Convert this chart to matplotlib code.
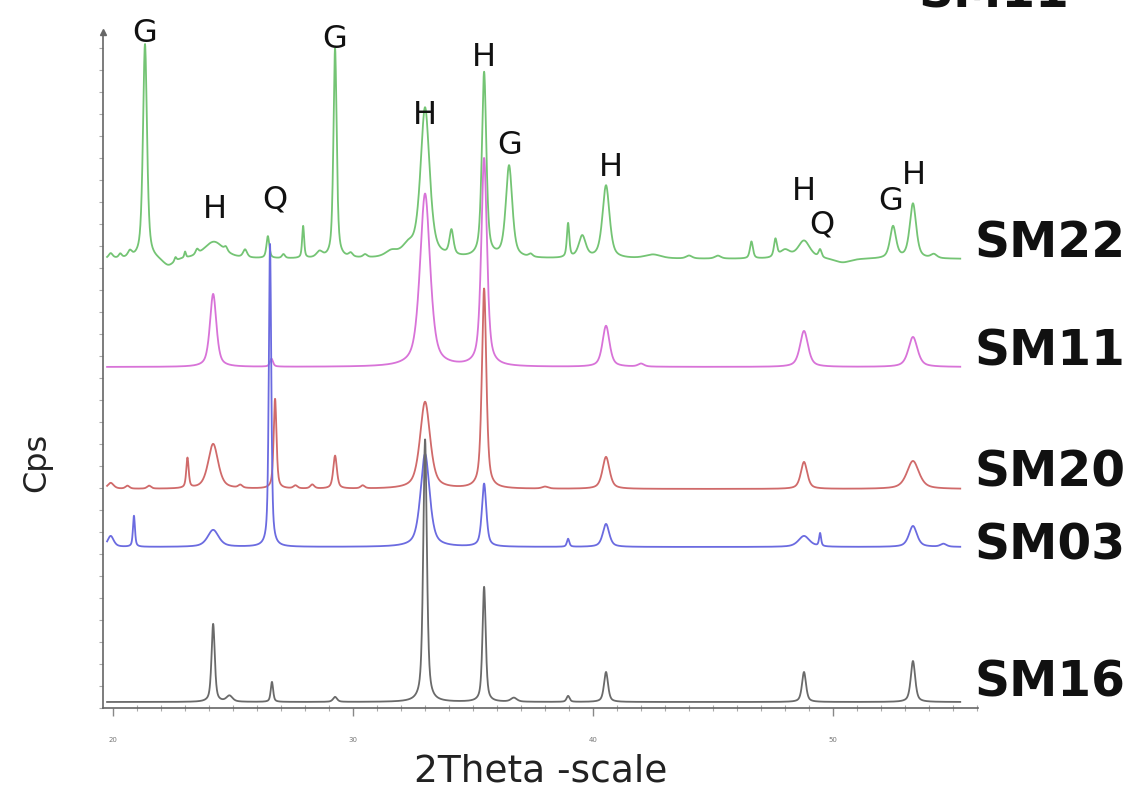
import numpy as np
import matplotlib
matplotlib.use("Agg")
import matplotlib.pyplot as plt
from matplotlib.ticker import MultipleLocator

# =================================
# Data
# peaks: (2theta, height, fwhm) ; heights in plot units above the baseline
# =================================
samples = ["SM22", "SM11", "SM20", "SM03", "SM16"]
colors = ["#74c474", "#d873d8", "#d06a6a", "#6b6be0", "#6a6a6a"]
baselines = [449, 341, 219, 161, 6]

peaks_sm22 = [(19.9, 5, 0.2), (20.3, 4, 0.15), (20.7, 6, 0.2),
              (21.33, 215, 0.20), (22.3, -8, 0.6), (22.6, 4, 0.1), (23.0, 6, 0.08),
              (23.5, 5, 0.15), (24.2, 17, 1.0), (24.7, 4, 0.15),
              (25.5, 8, 0.2), (26.45, 22, 0.14), (27.1, 4, 0.15), (27.92, 32, 0.10),
              (28.6, 6, 0.3), (29.25, 210, 0.16), (29.9, 4, 0.2), (30.5, 3, 0.2),
              (31.6, 6, 0.6), (32.3, 10, 0.6), (33.0, 150, 0.45),
              (34.1, 25, 0.2), (35.46, 185, 0.22), (36.5, 92, 0.32), (37.4, 3, 0.2),
              (38.96, 34, 0.12), (39.55, 22, 0.35), (40.54, 73, 0.35), (42.5, 4, 0.8),
              (44.0, 3, 0.3), (45.2, 3, 0.3), (46.6, 17, 0.15),
              (47.6, 18, 0.15), (48.0, 8, 0.5), (48.79, 18, 0.6), (49.46, 8, 0.15),
              (50.4, -4, 0.8), (52.5, 32, 0.3), (53.33, 55, 0.32), (54.2, 4, 0.3)]
peaks_sm11 = [(24.17, 73, 0.32), (26.6, 8, 0.15), (33.0, 173, 0.5), (35.46, 208, 0.28),
              (40.54, 41, 0.35), (42.0, 3, 0.3), (48.79, 36, 0.4), (53.33, 30, 0.45)]
peaks_sm20 = [(19.9, 6, 0.3), (20.6, 3, 0.2), (21.5, 3, 0.2), (23.1, 30, 0.12),
              (24.17, 45, 0.5), (25.3, 3, 0.2), (26.75, 90, 0.14), (27.6, 3, 0.2),
              (28.3, 4, 0.2), (29.25, 33, 0.18), (30.4, 3, 0.2), (33.0, 87, 0.5),
              (35.46, 200, 0.22), (38.0, 2, 0.3), (40.54, 32, 0.35),
              (48.79, 27, 0.32), (53.33, 28, 0.6)]
peaks_sm03 = [(19.9, 11, 0.3), (20.87, 31, 0.10), (24.17, 17, 0.55), (26.54, 303, 0.12),
              (33.0, 93, 0.45), (35.46, 63, 0.22), (38.96, 8, 0.12), (40.54, 23, 0.32),
              (48.79, 11, 0.55), (49.46, 13, 0.10), (53.33, 21, 0.4), (54.6, 3, 0.3)]
peaks_sm16 = [(24.17, 78, 0.16), (24.85, 6, 0.3), (26.62, 20, 0.12), (29.25, 5, 0.2),
              (33.0, 263, 0.18), (35.46, 115, 0.16), (36.7, 4, 0.3), (38.96, 6, 0.15),
              (40.54, 30, 0.2), (48.79, 30, 0.2), (53.33, 41, 0.22)]
all_peaks = [peaks_sm22, peaks_sm11, peaks_sm20, peaks_sm03, peaks_sm16]

# phase labels: (letter, 2theta, height)
phase_letters = ["G", "H", "Q", "G", "H", "H", "G", "H", "H", "Q", "G", "H"]
phase_x = [21.33, 24.25, 26.75, 29.25, 33.0, 35.46, 36.54, 40.75, 48.79, 49.54, 52.38, 53.38]
phase_y = [676, 499, 509, 669, 594, 652, 564, 542, 517, 484, 507, 534]

# label heights on the right (figure pixels from top)
label_ypx = [243, 352, 473, 545, 683]


def pattern(x, peaks):
    """Sum of pseudo-Voigt peaks."""
    y = np.zeros_like(x)
    for c, h, w in peaks:
        hw = w / 2
        lor = 1 / (1 + ((x - c) / hw) ** 2)
        gau = np.exp(-np.log(2) * ((x - c) / hw) ** 2)
        y += h * (0.6 * lor + 0.4 * gau)
    return y


W, H = 1132, 803
fig = plt.figure(figsize=(W / 100, H / 100), dpi=100)
ax = fig.add_axes([103 / W, 1 - 709 / H, (978 - 103) / W, (709 - 33) / H])

x = np.linspace(19.75, 55.3, 4000)
for name, col, base, pk in zip(samples, colors, baselines, all_peaks):
    ax.plot(x, base + pattern(x, pk), color=col, lw=1.3)

for s, px, py in zip(phase_letters, phase_x, phase_y):
    ax.text(px, py, s, fontsize=23, ha="center", va="center", color="#111111", clip_on=False)

ax.set_xlim(19.58, 56.04)
ax.set_ylim(0, 676)

for sp in ["top", "right"]:
    ax.spines[sp].set_visible(False)
for sp in ["left", "bottom"]:
    ax.spines[sp].set_color("#666666")
    ax.spines[sp].set_linewidth(1.2)

ax.xaxis.set_major_locator(MultipleLocator(10))
ax.xaxis.set_minor_locator(MultipleLocator(1))
ax.yaxis.set_major_locator(MultipleLocator(22))
ax.tick_params(axis="x", which="major", direction="out", length=6, width=1, color="#888888",
               labelsize=5, labelcolor="#777777", pad=14)
ax.tick_params(axis="x", which="minor", direction="inout", length=4, width=0.8, color="#aaaaaa")
ax.tick_params(axis="y", which="major", direction="out", length=3, width=0.8, color="#aaaaaa",
               labelleft=False)
ax.plot([0], [1], marker="^", color="#666666", ms=4, transform=ax.transAxes, clip_on=False)

ax.set_xlabel("2Theta -scale", fontsize=27, color="#222222", labelpad=8)
fig.text(37 / W, 1 - 462 / H, "Cps", rotation=90, fontsize=23, color="#222222",
         ha="center", va="center")

for name, ypx in zip(samples, label_ypx):
    fig.text(975 / W, 1 - ypx / H, name, fontsize=35, fontweight="bold",
             color="#111111", ha="left", va="center")
# label at the very top, cut by the upper edge as in the source image
fig.text(918 / W, 1 - 8 / H, "SM11", fontsize=35, fontweight="bold",
         color="#111111", ha="left", va="baseline")

fig.savefig("out.png", dpi=100)
